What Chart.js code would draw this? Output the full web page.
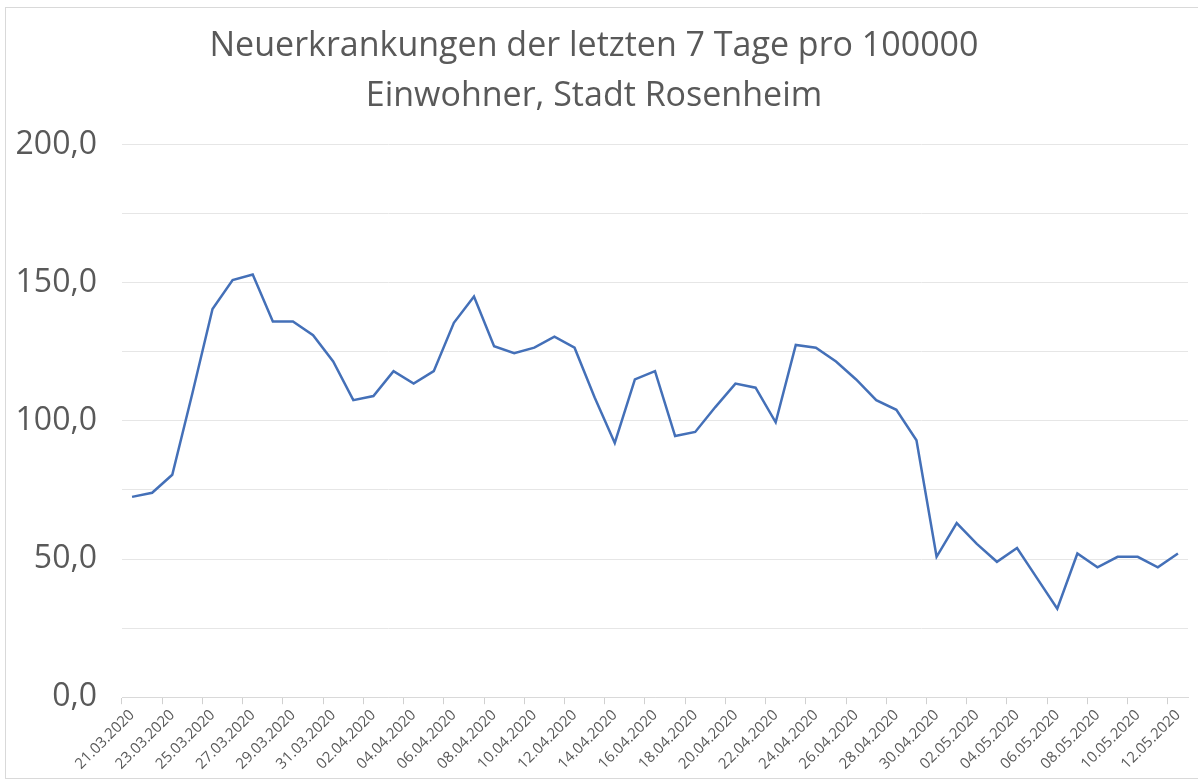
<!DOCTYPE html>
<html>
<head>
<meta charset="utf-8">
<script src="https://cdn.jsdelivr.net/npm/chart.js@4/dist/chart.umd.min.js"></script>
<style>
    body { margin: 0; background: #fff; }
    #wrap { position: relative; width: 1198px; height: 781px; overflow: hidden; }
    #frame { position: absolute; left: 5px; top: 7px; width: 1200px; height: 770px;
             border: 1px solid #d9d9d9; pointer-events: none; }
</style>
</head>
<body>
<div id="wrap">
    <canvas id="inzidenzChart" width="1198" height="781"></canvas>
    <div id="frame"></div>
</div>
<script>
"use strict";

// Datum (Kategorien)
var dates = [
    "21.03.2020", "22.03.2020", "23.03.2020", "24.03.2020", "25.03.2020", "26.03.2020",
    "27.03.2020", "28.03.2020", "29.03.2020", "30.03.2020", "31.03.2020",
    "01.04.2020", "02.04.2020", "03.04.2020", "04.04.2020", "05.04.2020", "06.04.2020",
    "07.04.2020", "08.04.2020", "09.04.2020", "10.04.2020", "11.04.2020", "12.04.2020",
    "13.04.2020", "14.04.2020", "15.04.2020", "16.04.2020", "17.04.2020", "18.04.2020",
    "19.04.2020", "20.04.2020", "21.04.2020", "22.04.2020", "23.04.2020", "24.04.2020",
    "25.04.2020", "26.04.2020", "27.04.2020", "28.04.2020", "29.04.2020", "30.04.2020",
    "01.05.2020", "02.05.2020", "03.05.2020", "04.05.2020", "05.05.2020", "06.05.2020",
    "07.05.2020", "08.05.2020", "09.05.2020", "10.05.2020", "11.05.2020", "12.05.2020"
];

// 7-Tage-Inzidenz pro 100000 Einwohner
var incidence = [
    72.5, 74, 80.5, 110, 140.5, 151, 153, 136, 136, 131, 121.5,
    107.5, 109, 118, 113.5, 118, 135.5, 145, 127, 124.5, 126.5, 130.5, 126.5,
    108.5, 92, 115, 118, 94.5, 96, 105, 113.5, 112, 99.5, 127.5, 126.5,
    121.5, 115, 107.5, 104, 93, 50.8,
    63, 55.5, 49, 54, 43, 32, 52, 47, 50.8, 50.8, 47, 52
];

var yTicks = [0, 50, 100, 150, 200];

var titleLines = ["Neuerkrankungen der letzten 7 Tage pro 100000", "Einwohner, Stadt Rosenheim"];

var textColor = '#595959';

var ctx = document.getElementById("inzidenzChart"),
    inzidenzChart = new Chart(ctx, {
        type: 'line',
        data: {
            labels: dates,
            datasets: [{
                label: 'Inzidenz',
                data: incidence,
                borderColor: '#4470b8',
                borderWidth: 2.5,
                pointRadius: 0,
                tension: 0,
                fill: false
            }]
        },
        options: {
            responsive: false,
            animation: false,
            layout: {
                padding: {
                    left: 0,
                    right: 10,
                    top: 0,
                    bottom: 6
                }
            },
            plugins: {
                legend: {
                    display: false
                },
                tooltip: {
                    enabled: false
                },
                title: {
                    display: true,
                    text: titleLines,
                    color: textColor,
                    font: {
                        family: 'Open Sans',
                        size: 34,
                        weight: 'normal',
                        lineHeight: 1.45
                    },
                    padding: {
                        top: 22,
                        bottom: 24
                    }
                }
            },
            scales: {
                x: {
                    offset: true,
                    grid: {
                        offset: true,
                        drawOnChartArea: false,
                        drawTicks: true,
                        tickLength: 7,
                        color: function (c) {
                            return c.index % 2 === 0 ? '#d0d0d0' : 'rgba(0,0,0,0)';
                        }
                    },
                    border: {
                        display: true,
                        color: '#d9d9d9',
                        width: 1
                    },
                    ticks: {
                        autoSkip: false,
                        minRotation: 45,
                        maxRotation: 45,
                        padding: 2,
                        color: textColor,
                        font: {
                            family: 'Open Sans',
                            size: 15
                        },
                        callback: function (value, index) {
                            return index % 2 === 0 ? dates[index] : '';
                        }
                    }
                },
                y: {
                    min: 0,
                    max: 200,
                    afterFit: function (scale) {
                        scale.width = 122;
                    },
                    grid: {
                        color: '#e6e6e6',
                        drawTicks: false
                    },
                    border: {
                        display: false
                    },
                    ticks: {
                        stepSize: 25,
                        padding: 25,
                        color: textColor,
                        font: {
                            family: 'Open Sans',
                            size: 32
                        },
                        callback: function (value) {
                            return yTicks.indexOf(value) >= 0 ? value.toFixed(1).replace('.', ',') : '';
                        }
                    }
                }
            }
        }
    });
</script>
</body>
</html>
